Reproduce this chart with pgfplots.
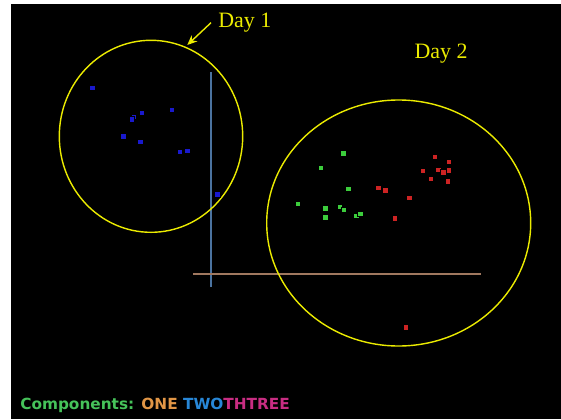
\documentclass[border=0pt]{standalone}
\usepackage{pgfplots}
\pgfplotsset{compat=1.18}
\usepackage{fontspec}
\setmainfont{Liberation Serif}
\newfontfamily\djs{DejaVu Sans}
\usetikzlibrary{arrows.meta}
\definecolor{ptblue}{RGB}{25,25,205}
\definecolor{ptgreen}{RGB}{60,205,60}
\definecolor{ptred}{RGB}{205,35,35}
\definecolor{dayyellow}{RGB}{235,235,0}
\definecolor{vline}{RGB}{75,115,160}
\definecolor{hline}{RGB}{160,120,95}
\definecolor{cgreen}{RGB}{70,195,90}
\definecolor{corange}{RGB}{225,150,70}
\definecolor{cblue}{RGB}{40,135,215}
\definecolor{cmag}{RGB}{200,45,130}
\begin{document}
\begin{tikzpicture}
\begin{axis}[
  scale only axis,
  width=14.025cm, height=10.475cm,
  xmin=0, xmax=561, ymin=0, ymax=419,
  y dir=reverse,
  axis lines=none,
  clip=false,
]
\fill[white] (axis cs:0,0) rectangle (axis cs:561,419);
\fill[black] (axis cs:11,4) rectangle (axis cs:561,419);
% component lines
\addplot[vline, line width=1.5pt] coordinates {(211,72) (211,287)};
\addplot[hline, line width=1.5pt] coordinates {(193,274) (481,274)};
% Day 1 points
\addplot[only marks, mark=square*, mark size=1.8pt, mark options={draw=none, fill=ptblue}] coordinates {
(92.3,87.7) (141.7,112.7) (134,116.7) (131.7,119.3) (171.7,110)
(123.3,136.3) (140.3,141.7) (180,152) (187.3,151) (217.3,194.3)};
% Day 2 green
\addplot[only marks, mark=square*, mark size=1.8pt, mark options={draw=none, fill=ptgreen}] coordinates {
(343.3,153.3) (320.7,167.7) (348.3,188.7) (297.7,204) (325.3,208.3)
(340,206.7) (343.7,210) (325.3,217.3) (356.3,215.7) (360.3,213.7)};
% Day 2 red
\addplot[only marks, mark=square*, mark size=1.8pt, mark options={draw=none, fill=ptred}] coordinates {
(434.7,157) (449,161.7) (422.7,170.7) (438.3,169.7) (443.3,172.3)
(449,170.3) (430.7,178.7) (447.7,181.3) (378.3,187.7) (385.3,190.3)
(409.3,197.7) (395,218.3) (406,327.3)};
% circles
\draw[dayyellow, line width=1pt] (axis cs:151,136.3) ellipse [x radius=2.2925cm, y radius=2.4cm];
\draw[dayyellow, line width=1pt] (axis cs:398.7,223) ellipse [x radius=3.3cm, y radius=3.075cm];
% arrow and labels
\draw[dayyellow, line width=1pt, -{Stealth[length=7pt,width=6pt]}] (axis cs:211,22.7) -- (axis cs:187.3,45);
\node[dayyellow, font=\fontsize{15.6}{18}\selectfont, anchor=west, inner sep=0pt] at (axis cs:218,23) {Day 1};
\node[dayyellow, font=\fontsize{15.6}{18}\selectfont, inner sep=0pt] at (axis cs:441,54) {Day 2};
\node[anchor=west, inner sep=0pt, font=\djs\bfseries\fontsize{10.9}{13}\selectfont] at (axis cs:20,405.7)
  {\textcolor{cgreen}{Components:} \textcolor{corange}{ONE} \textcolor{cblue}{TWO}\textcolor{cmag}{THTREE}};
\end{axis}
\end{tikzpicture}
\end{document}
